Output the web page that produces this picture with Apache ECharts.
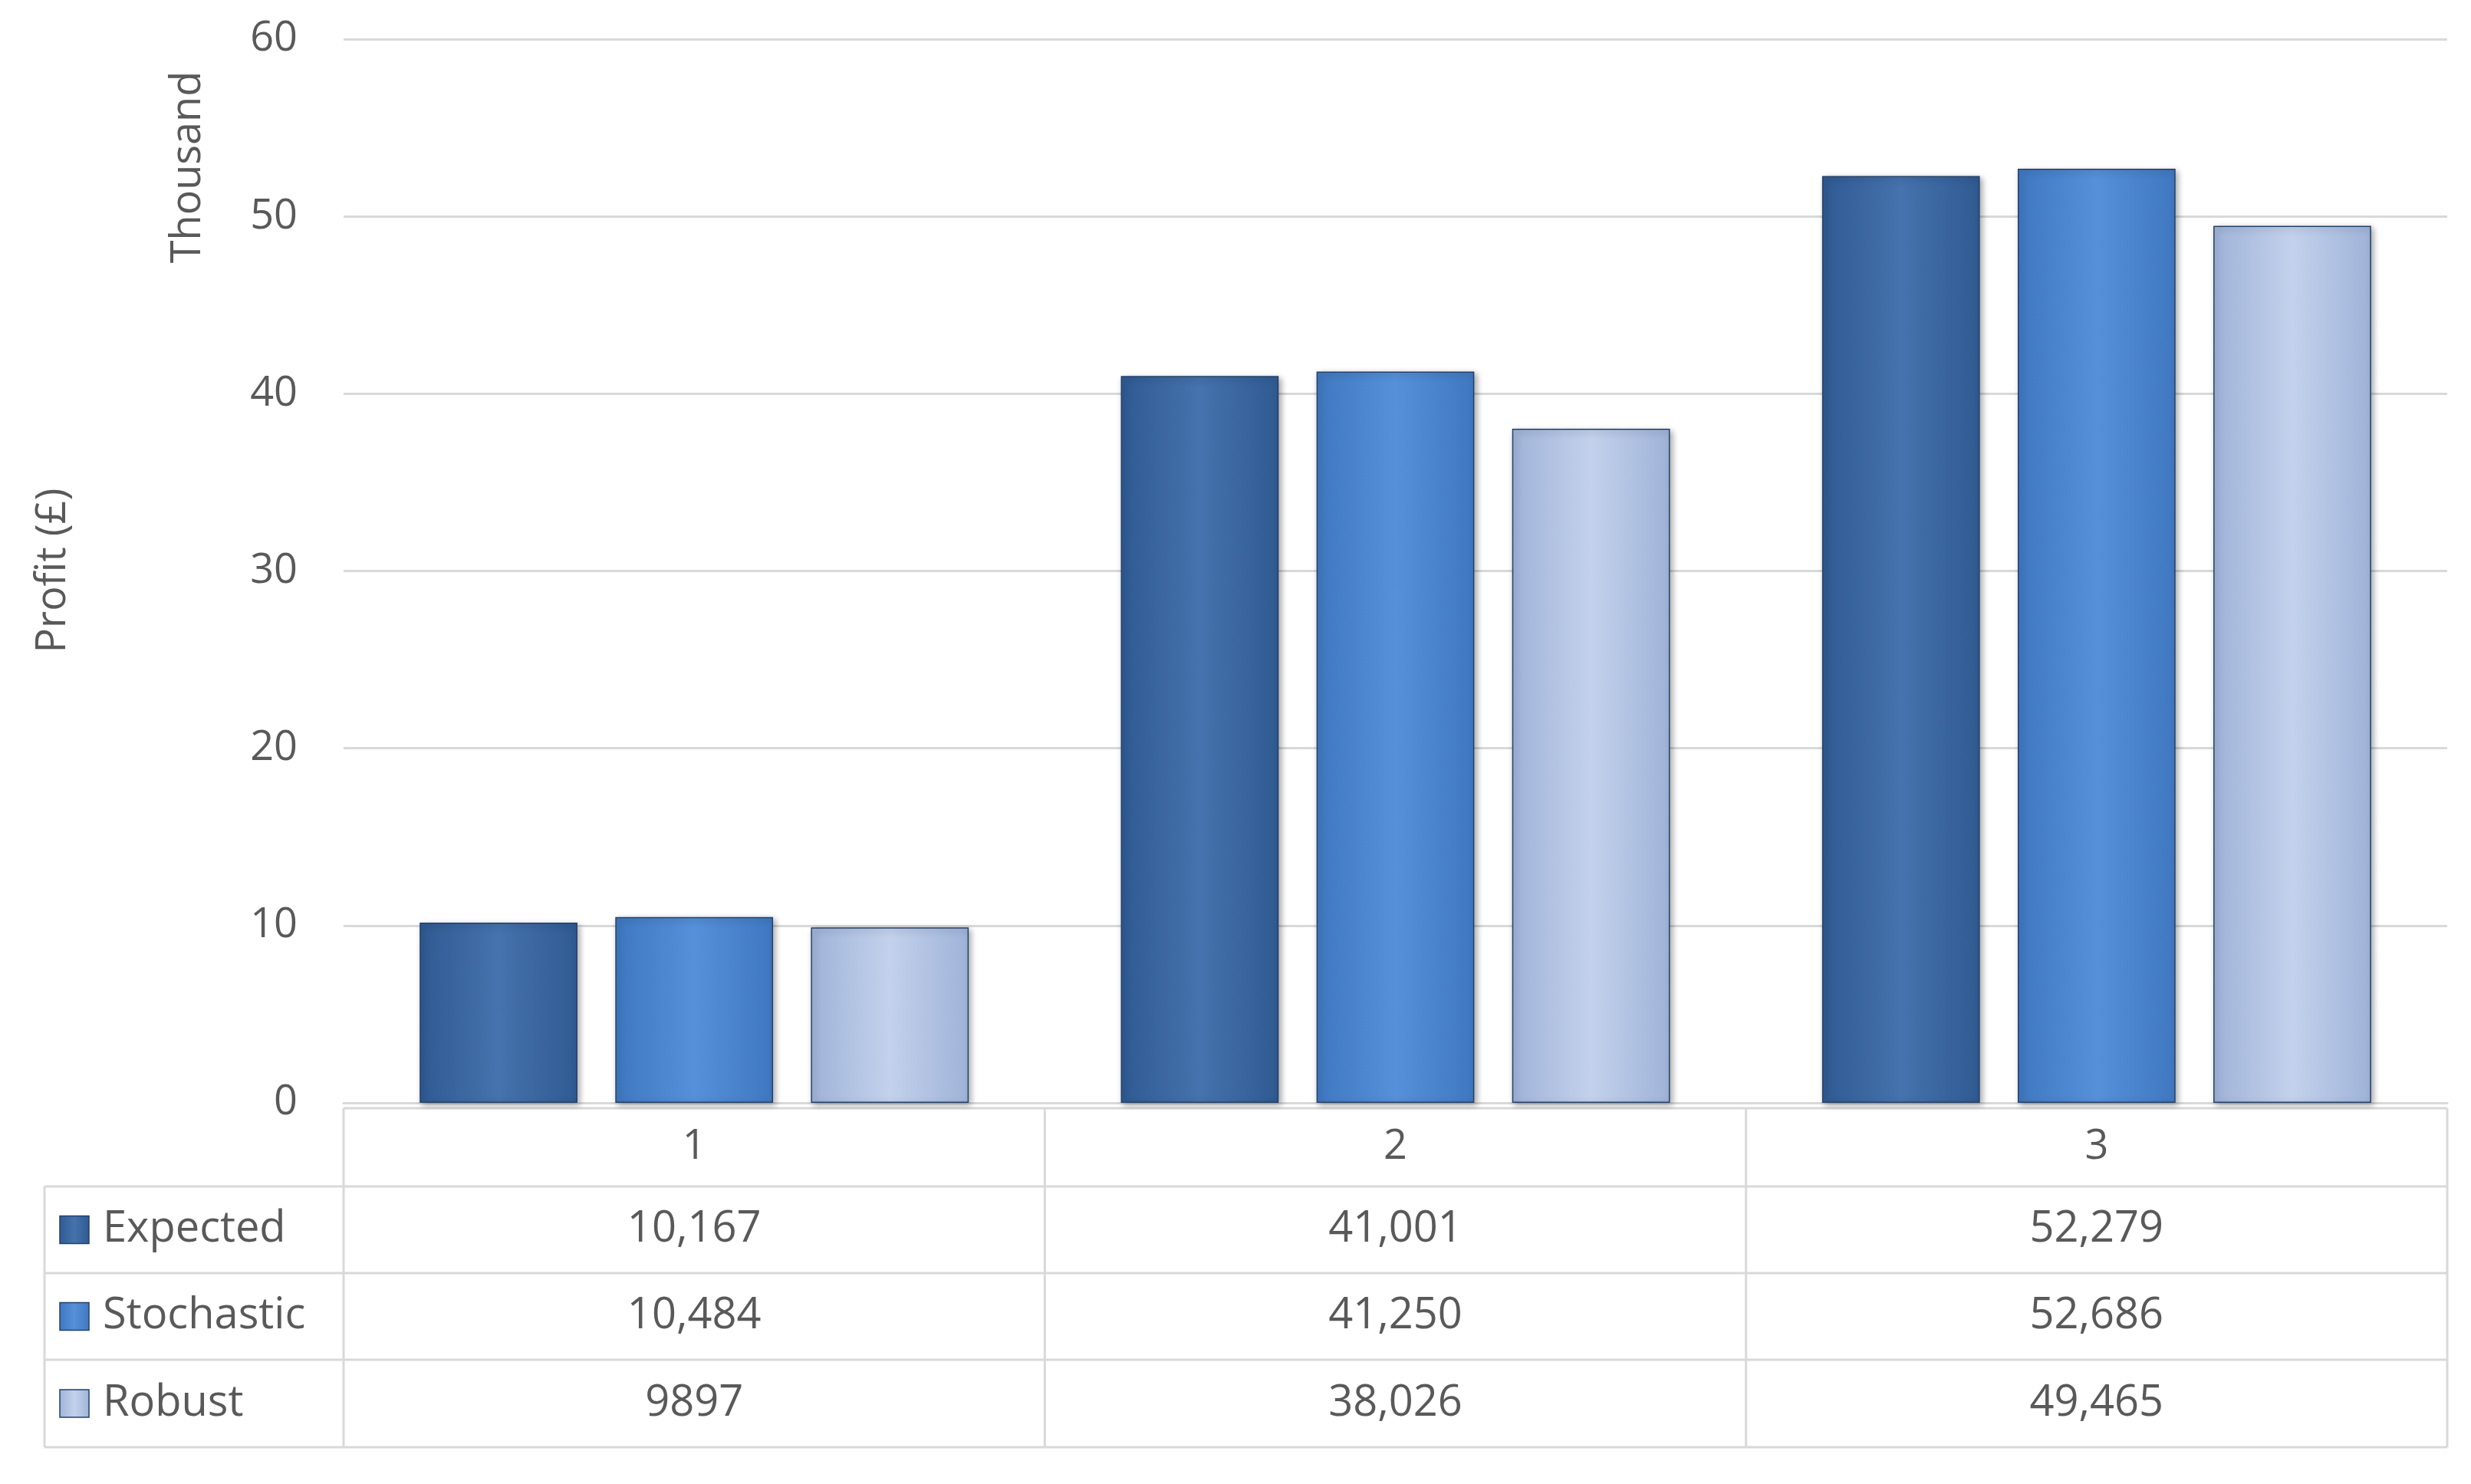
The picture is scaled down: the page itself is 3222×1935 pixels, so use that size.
<!DOCTYPE html>
<html><head><meta charset="utf-8">
<script src="https://cdn.jsdelivr.net/npm/echarts@6/dist/echarts.min.js"></script>
<style>html,body{margin:0;padding:0;background:#fff}#c{width:3222px;height:1935px}</style>
</head><body><div id="c"></div>
<script>
var categories = ['1', '2', '3'];
var seriesNames = ['Expected', 'Stochastic', 'Robust'];
var expected = [10167, 41001, 52279];
var stochastic = [10484, 41250, 52686];
var robust = [9897, 38026, 49465];
var tableLabels = [['10,167', '41,001', '52,279'], ['10,484', '41,250', '52,686'], ['9897', '38,026', '49,465']];
var yTicks = [0, 10, 20, 30, 40, 50, 60];

var chart = echarts.init(document.getElementById('c'));
var F = '"Open Sans", sans-serif';
var txt = '#595959', grid = '#d9d9d9';
var colors = [['#2f5a92', '#4672ad', '#2f5a92'], ['#3f78c0', '#5590d8', '#3f78c0'], ['#9fb3d8', '#c3d1ec', '#9fb3d8']];
var GL = 448, GR = 3191, GT = 51, GB = 1438;
var rowY = [1445, 1547, 1660, 1773, 1887];
var tableLeft = 58;

function grad(c) {
  return new echarts.graphic.LinearGradient(0, 0, 1, 0, [
    { offset: 0, color: c[0] }, { offset: 0.5, color: c[1] }, { offset: 1, color: c[2] }]);
}
var all = [expected, stochastic, robust];
var series = all.map(function (vals, i) {
  return {
    name: seriesNames[i], type: 'bar', barGap: '24%', barWidth: '22.5%',
    data: vals.map(function (v) { return v / 1000; }),
    itemStyle: { color: grad(colors[i]), borderColor: '#24406a', borderWidth: 1.5,
      shadowColor: 'rgba(0,0,0,0.35)', shadowBlur: 8, shadowOffsetX: 3, shadowOffsetY: 3 }
  };
});

var g = [];
var colW = (GR - GL) / categories.length;
rowY.forEach(function (y, r) {
  g.push({ type: 'line', shape: { x1: r === 0 ? GL : tableLeft, y1: y, x2: GR, y2: y }, style: { stroke: grid, lineWidth: 3 } });
});
for (var c = 0; c <= categories.length; c++) {
  g.push({ type: 'line', shape: { x1: GL + c * colW, y1: rowY[0], x2: GL + c * colW, y2: rowY[4] }, style: { stroke: grid, lineWidth: 3 } });
}
g.push({ type: 'line', shape: { x1: tableLeft, y1: rowY[1], x2: tableLeft, y2: rowY[4] }, style: { stroke: grid, lineWidth: 3 } });
categories.forEach(function (cat, i) {
  g.push({ type: 'text', x: GL + (i + 0.5) * colW, y: (rowY[0] + rowY[1]) / 2,
    style: { text: cat, fill: txt, font: '54px ' + F, textAlign: 'center', textVerticalAlign: 'middle' } });
});
seriesNames.forEach(function (n, r) {
  var cy = (rowY[r + 1] + rowY[r + 2]) / 2;
  g.push({ type: 'rect', shape: { x: 78, y: cy - 18, width: 38, height: 36 },
    style: { fill: grad(colors[r]), stroke: '#24406a', lineWidth: 1.5 } });
  g.push({ type: 'text', x: 134, y: cy, style: { text: n, fill: txt, font: '56px ' + F, textVerticalAlign: 'middle' } });
  tableLabels[r].forEach(function (s, i) {
    g.push({ type: 'text', x: GL + (i + 0.5) * colW, y: cy,
      style: { text: s, fill: txt, font: '56px ' + F, textAlign: 'center', textVerticalAlign: 'middle' } });
  });
});
g.push({ type: 'text', x: 70, y: 744, rotation: Math.PI / 2,
  style: { text: 'Profit (£)', fill: txt, font: '54px ' + F, textAlign: 'center', textVerticalAlign: 'middle' } });
g.push({ type: 'text', x: 246, y: 218, rotation: Math.PI / 2,
  style: { text: 'Thousand', fill: txt, font: '54px ' + F, textAlign: 'center', textVerticalAlign: 'middle' } });

chart.setOption({
  animation: false,
  grid: { left: GL, right: 3222 - GR, top: GT, bottom: 1935 - GB },
  xAxis: { type: 'category', data: categories, axisLabel: { show: false }, axisTick: { show: false },
    axisLine: { lineStyle: { color: grid, width: 3 } } },
  yAxis: { type: 'value', min: yTicks[0], max: yTicks[yTicks.length - 1], interval: 10,
    axisLabel: { color: txt, fontSize: 54, fontFamily: F, margin: 60 },
    splitLine: { lineStyle: { color: grid, width: 3 } } },
  series: series,
  graphic: g
});
</script></body></html>
